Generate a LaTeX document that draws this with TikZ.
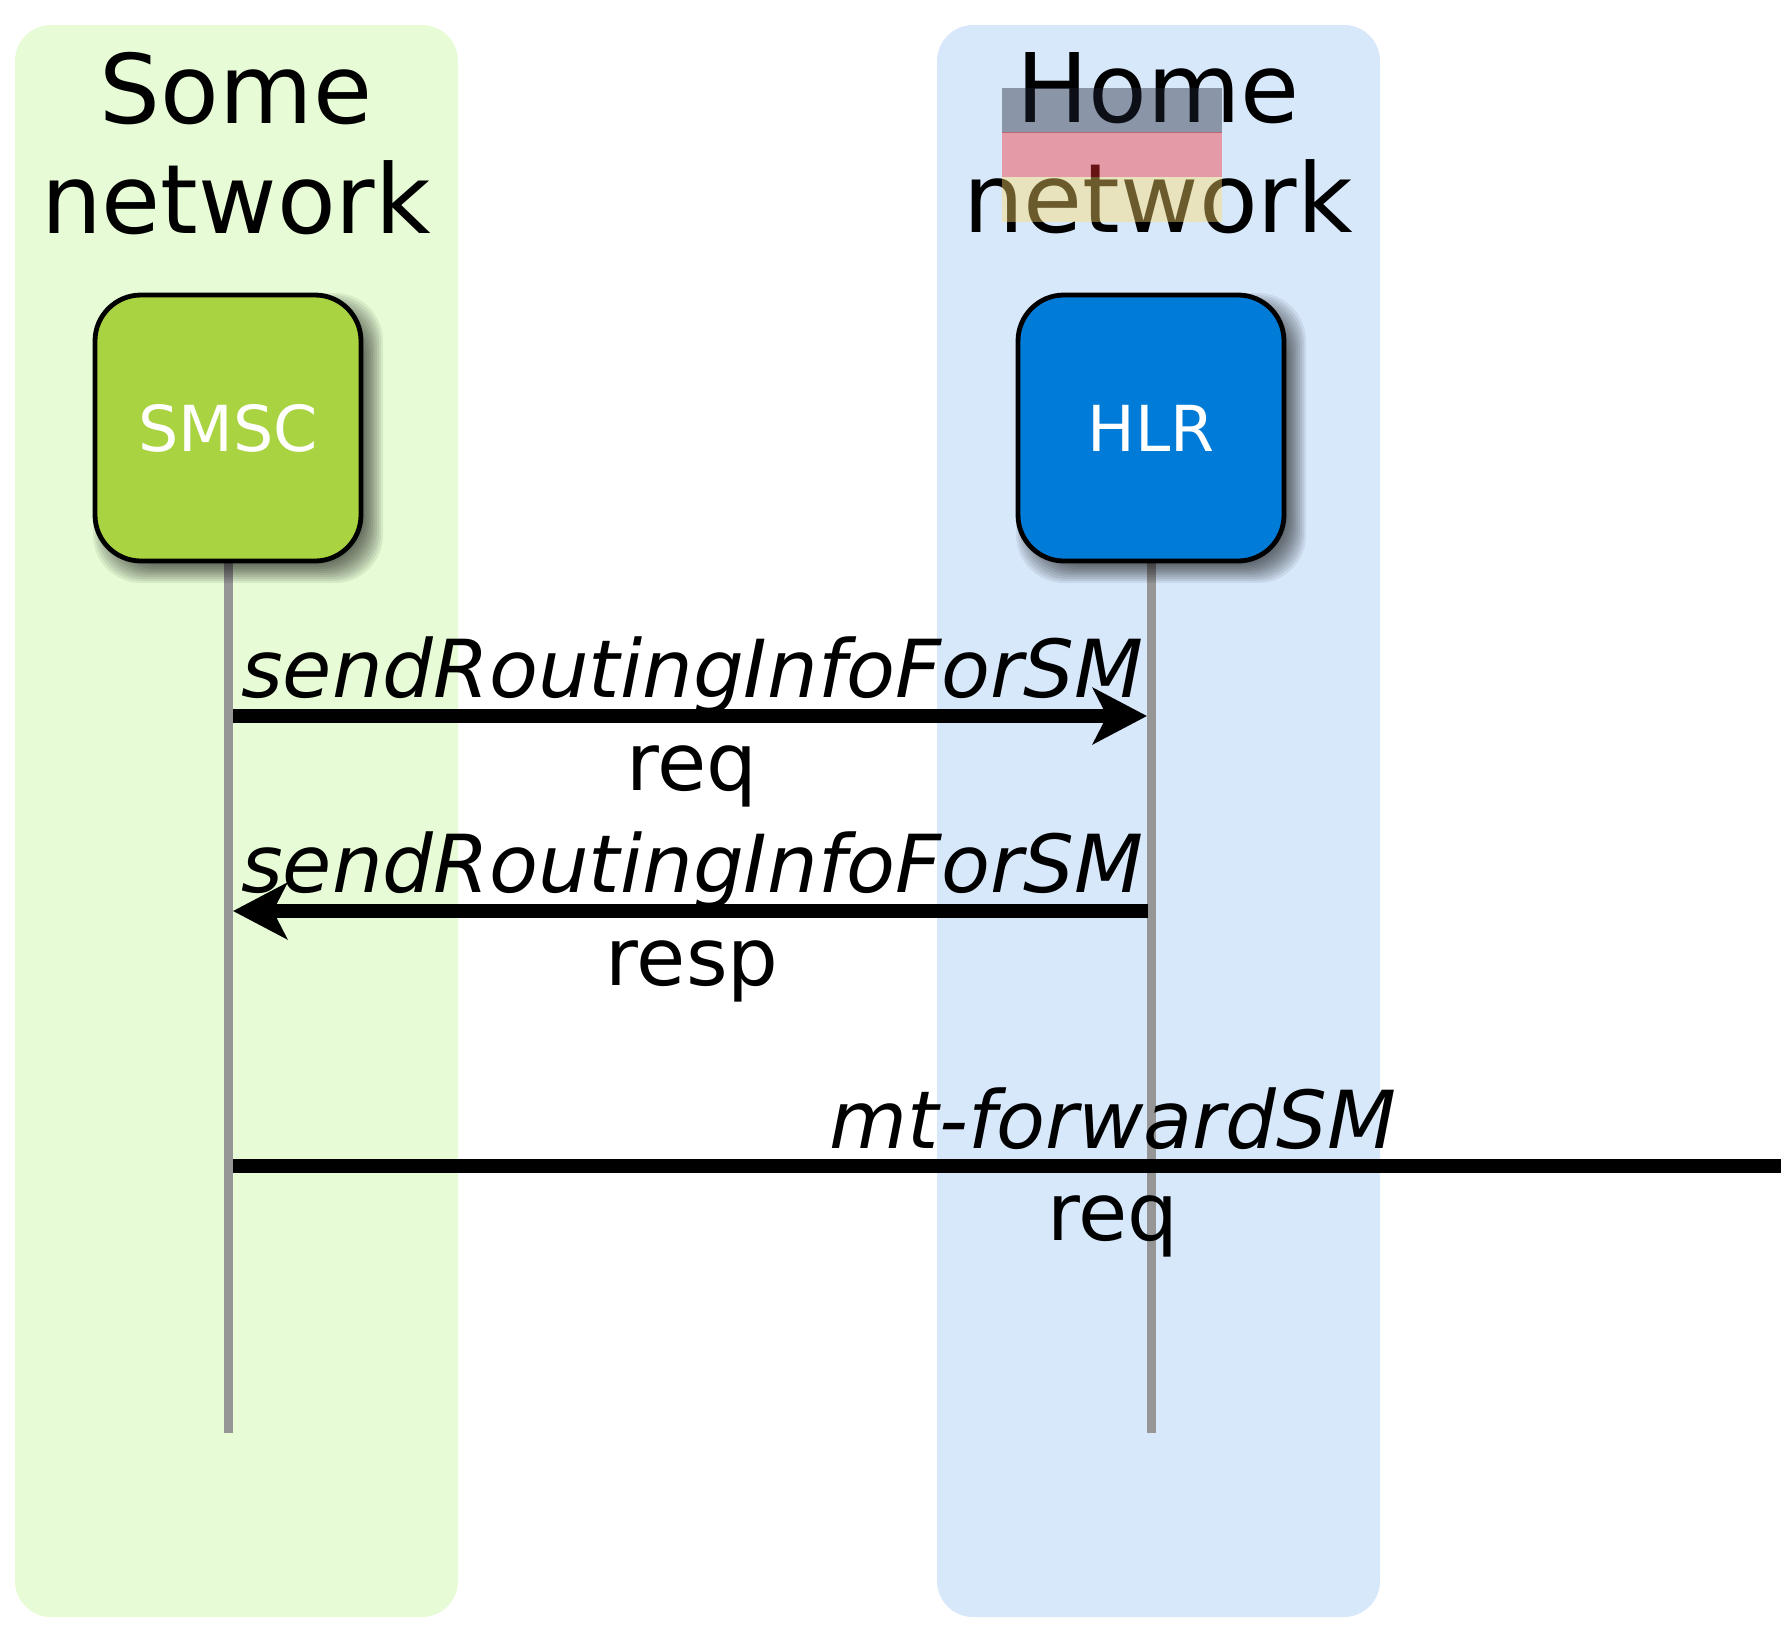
\documentclass[tikz,border=0pt]{standalone}
\usepackage{fontspec}
\setmainfont{DejaVu Sans}
\usetikzlibrary{positioning,arrows.meta}
\definecolor{greenzone}{HTML}{E7FCD6}
\definecolor{bluezone}{HTML}{D8E8FB}
\definecolor{greenbox}{HTML}{A9D341}
\definecolor{bluebox}{HTML}{007BD7}
\definecolor{flagblack}{RGB}{33,36,55}
\definecolor{flagred}{RGB}{247,50,52}
\definecolor{flaggold}{RGB}{255,219,105}
\newcommand{\boxshadow}[1]{%
	\foreach \rr in {145,143,...,121}
		\fill[black, opacity=0.07, rounded corners=24pt, shift={(#1)}, xshift=5pt, yshift=-5pt] (-\rr,-\rr) rectangle (\rr,\rr);
}
\begin{document}
\begin{tikzpicture}
	[x=0.5pt, y=-0.5pt,
	zone/.style = {rounded corners=18pt, minimum width=221.5pt, minimum height=796pt, inner sep=0pt},
	title/.style = {align=center, font=\fontsize{48}{55}\selectfont},
	main/.style = {draw=black, line width=2.4pt, rounded corners=23pt, minimum size=133pt, inner sep=0pt,
		text=white, font=\fontsize{31.7}{38}\selectfont},
	life/.style = {draw={rgb,255:red,150;green,150;blue,150}, line width=4.5pt},
	sendmsg/.style = {line width=6.8pt, -{Stealth[length=27pt,width=28pt,inset=7pt]}},
	plainmsg/.style = {line width=6.8pt},
	lab/.style = {anchor=base, font=\fontsize{40}{48}\selectfont}]
\useasboundingbox (0,0) rectangle (1781,1629);
\node[zone, fill=greenzone] (somezone) at (236.5,821) {};
\node[zone, fill=bluezone] (homezone) at (1158.5,821) {};
\node[title] (sometitle) at (236,143.5) {Some\\network};
\node[title] (hometitle) at (1158,143.5) {Home\\network};
% flag
\foreach \col/\ytop in {flagblack/88, flagred/132, flaggold/177}
	\fill[\col, opacity=0.42] (1002,\ytop) rectangle (1222,\ytop+45);
\coordinate (smscpos) at (228,428);
\coordinate (hlrpos) at (1151,428);
\coordinate (smscend) at (228,1433);
\coordinate (hlrend) at (1151,1433);
\draw[life] (smscpos) -- (smscend);
\draw[life] (hlrpos) -- (hlrend);
\boxshadow{smscpos}
\boxshadow{hlrpos}
\node[main, fill=greenbox] (smsc) at (smscpos) {SMSC};
\node[main, fill=bluebox] (hlr) at (hlrpos) {HLR};
\coordinate (a1) at (233,716);
\coordinate (b1) at (1147,716);
\coordinate (a2) at (233,911);
\coordinate (b2) at (1148,911);
\coordinate (a3) at (233,1166);
\coordinate (b3) at (1781,1166);
\draw[sendmsg] (a1) -- (b1);
\draw[sendmsg] (b2) -- (a2);
\draw[plainmsg] (a3) -- (b3);
\node[lab] (l1) at (692,697) {\itshape sendRoutingInfoForSM};
\node[lab] (r1) at (692,790) {req};
\node[lab] (l2) at (692,892) {\itshape sendRoutingInfoForSM};
\node[lab] (r2) at (692,985) {resp};
\node[lab] (l3) at (1113,1148) {\itshape mt-forwardSM};
\node[lab] (r3) at (1113,1240) {req};
\end{tikzpicture}
\end{document}
